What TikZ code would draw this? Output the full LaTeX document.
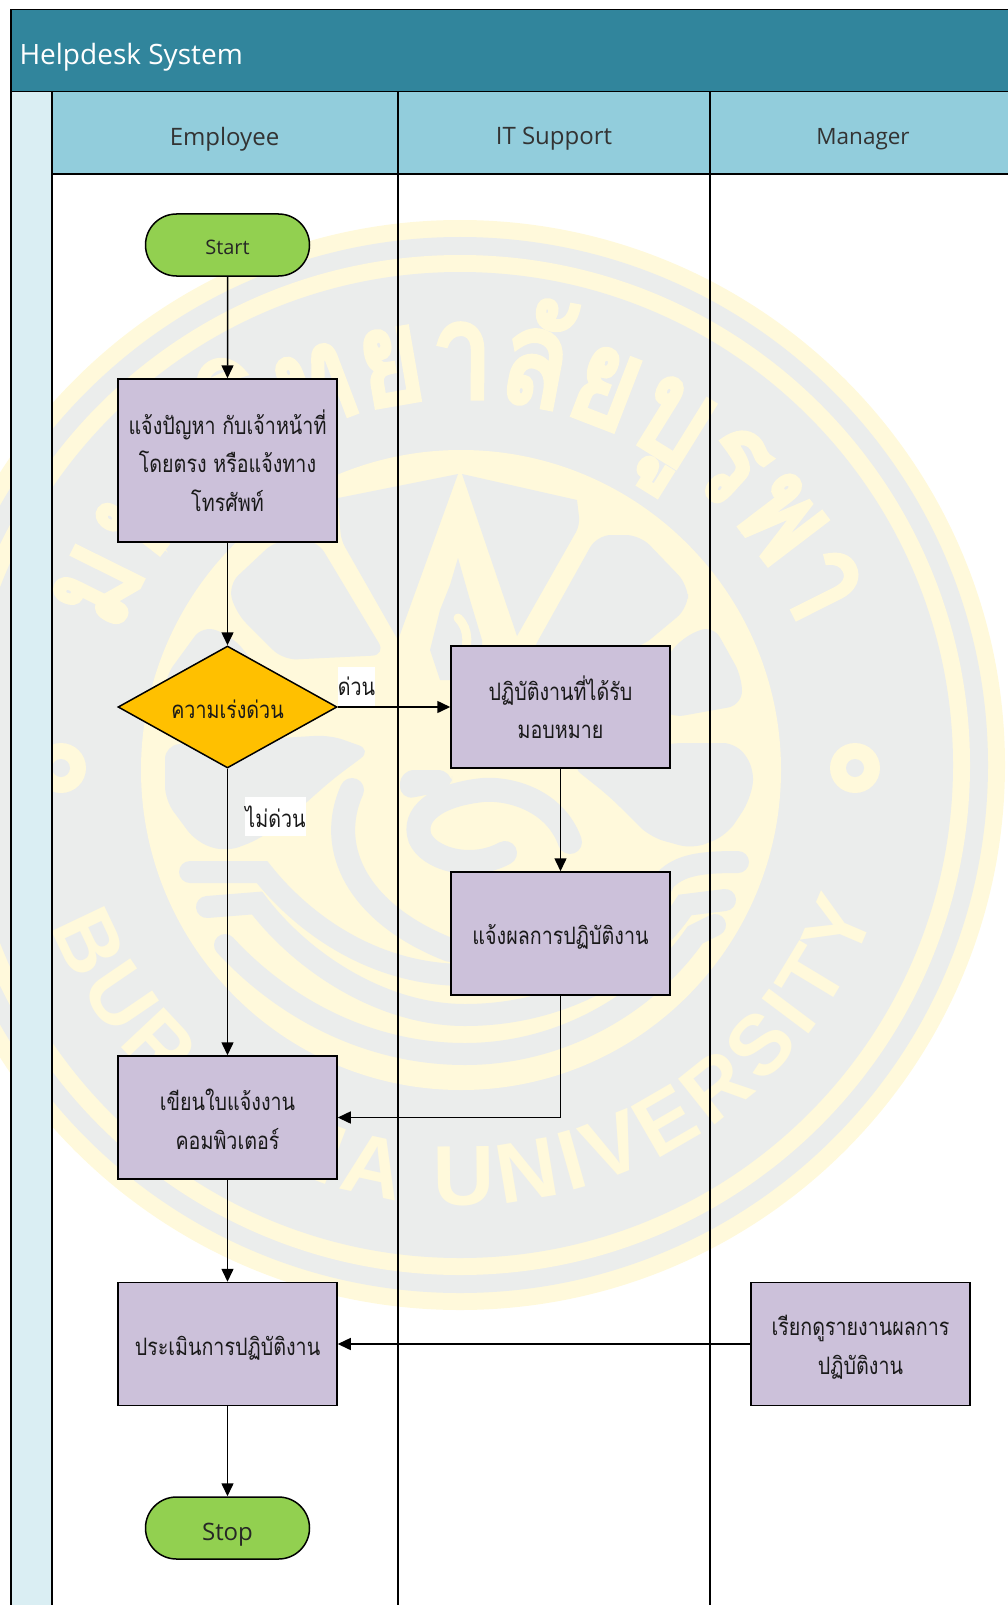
\documentclass[tikz,border=0pt]{standalone}
\usepackage{xcolor}
\usepackage{fontspec}
\usetikzlibrary{arrows.meta,shapes.geometric,shapes.misc,decorations.text}
\setmainfont{Open Sans}
\newfontfamily\thaifont[Script=Thai,FakeStretch=0.82]{Loma}
\newfontfamily\sealthai[Script=Thai,FakeStretch=0.8,FakeBold=4]{Loma}
\newfontfamily\sealfont{Liberation Sans}
\newcommand{\dropped}[2]{\raisebox{-#1}[\height][\depth]{#2}}
\definecolor{cTitle}{RGB}{49,133,156}
\definecolor{cHeader}{RGB}{146,205,220}
\definecolor{cStrip}{RGB}{218,238,243}
\definecolor{cTask}{RGB}{204,193,218}
\definecolor{cGreen}{RGB}{146,208,80}
\definecolor{cAmber}{RGB}{255,192,0}
\definecolor{cSealY}{RGB}{255,249,219}
\definecolor{cSealG}{RGB}{235,237,236}
\tikzset{
        laneline/.style={draw=black,line width=1.5pt},
        lanetext/.style={font=\fontsize{24}{28}\selectfont,text=black!80},
        taskbox/.style={draw=black,line width=1.5pt,fill=cTask,minimum width=219pt,inner sep=0pt,align=center,text=black!90,font=\thaifont\fontsize{24}{38.5}\selectfont},
        termbox/.style={rounded rectangle,draw=black,line width=1.5pt,fill=cGreen,minimum width=164pt,minimum height=62pt,inner sep=0pt,text=black!85},
        askbox/.style={diamond,aspect=1.787,draw=black,line width=1.5pt,fill=cAmber,minimum width=219pt,minimum height=122pt,inner sep=0pt,text=black!90,font=\thaifont\fontsize{24}{28}\selectfont},
        flowlabel/.style={fill=white,inner sep=0pt,minimum height=39pt,text=black!90,font=\thaifont\fontsize{24}{28}\selectfont},
        flowline/.style={draw=black,line width=1.5pt,-{Triangle[width=12pt,length=13pt]}},
        sealhole/.style={fill=cSealG,rounded corners=14pt},
        sealband/.style={draw=cSealG,line width=22pt,line cap=round}
}
\begin{document}
\begin{tikzpicture}[x=1pt,y=1pt]
        \useasboundingbox (0,0) rectangle (1008,-1605);
        \fill[cSealY] (460,-765) circle (545);
        \fill[cSealG] (460,-765) circle (528);
        \fill[cSealY] (460,-765) circle (510);
        \fill[cSealG] (460,-765) circle (493);
        \fill[cSealY] (461,-770) circle (320);
        \fill[cSealG] (462,-474) -- (577,-500) [rounded corners=8pt] -- (580,-525) [sharp corners] -- (517,-636) -- cycle;
        \fill[cSealG] (458,-474) -- (338,-498) [rounded corners=8pt] -- (341,-540) [sharp corners] -- (398,-640) -- cycle;
        \fill[sealhole] (597,-535) -- (640,-535) -- (688,-585) -- (688,-608) -- (640,-648) -- (530,-655) -- cycle;
        \fill[sealhole] (317,-540) -- (276,-540) -- (228,-585) -- (236,-613) -- (283,-660) -- (386,-655) -- cycle;
        \fill[sealhole] (683,-637) -- (713,-625) -- (742,-677) -- (742,-705) -- (670,-718) -- (640,-690) -- cycle;
        \fill[sealhole] (233,-637) -- (203,-625) -- (165,-677) -- (165,-715) -- (246,-730) -- (276,-690) -- cycle;
        \fill[sealhole] (670,-743) -- (737,-743) -- (755,-770) -- (750,-800) -- (727,-835) -- (693,-849) -- (650,-837) -- (610,-797) -- (570,-765) -- cycle;
        \fill[sealhole] (165,-745) -- (165,-800) -- (196,-842) -- (226,-852) -- (260,-839) -- (299,-809) -- (333,-779) -- (372,-750) -- (330,-735) -- cycle;
        \fill[cSealG] (458,-558) -- (470,-600) -- (482,-640) -- (482,-680) -- (440,-680) -- (430,-650) -- (440,-610) -- (450,-585) -- cycle;
        \draw[cSealY,line width=9pt,line cap=round] (458,-618) .. controls (470,-630) and (468,-645) .. (462,-665);
        \fill[sealhole] (400,-770) -- (452,-770) -- (452,-790) -- (400,-800) -- cycle;
        \draw[sealband,line width=24pt] (570,-842) .. controls (555,-800) and (510,-788) .. (483,-790) .. controls (435,-795) and (412,-815) .. (420,-838) .. controls (428,-858) and (470,-872) .. (505,-853);
        \draw[sealband,line width=24pt] (352,-790) .. controls (325,-850) and (360,-915) .. (450,-950);
        \draw[sealband] (190,-872) -- (262,-872) .. controls (300,-920) and (370,-975) .. (465,-975) .. controls (560,-975) and (640,-930) .. (665,-880) .. controls (680,-865) and (700,-862) .. (738,-862);
        \draw[sealband] (207,-907) -- (257,-903) .. controls (300,-960) and (380,-1015) .. (465,-1015) .. controls (570,-1015) and (650,-960) .. (685,-905) -- (725,-900);
        \draw[sealband] (225,-945) .. controls (285,-1010) and (370,-1054) .. (465,-1054) .. controls (565,-1054) and (650,-1000) .. (695,-935) -- (715,-925);
        \fill[cSealY] (855,-768) circle (25);
        \fill[cSealG] (855,-768) circle (9);
        \fill[cSealY] (61,-768) circle (25);
        \fill[cSealG] (61,-768) circle (9);
        \path[decorate,decoration={text along path,text align={fit to path},text={|\sealthai\fontsize{132}{132}\selectfont\color{cSealY}|{ม}{ห}{า}{วิ}{ท}{ย}{า}{ลั}{ย}{บู}{ร}{พ}{า}}}] (460,-765) ++(159:367) arc[start angle=159,end angle=22,radius=367];
        \path[decorate,decoration={text along path,text align={fit to path},text={|\sealfont\bfseries\fontsize{85}{85}\selectfont\color{cSealY}|BURAPHA UNIVERSITY}}] (460,-765) ++(201.5:440) arc[start angle=201.5,end angle=340.5,radius=440];
        \fill[cTitle] (11,-9.5) rectangle (1012,-92);
        \draw[laneline] (11,-9.5) rectangle (1012,-92);
        \fill[cStrip] (11,-92) rectangle (52,-1610);
        \fill[cHeader] (52,-92) rectangle (1012,-174);
        \draw[laneline] (11,-92) -- (11,-1610);
        \draw[laneline] (52,-92) -- (52,-1610);
        \draw[laneline] (398,-92) -- (398,-1610);
        \draw[laneline] (710,-92) -- (710,-1610);
        \draw[laneline] (52,-174) -- (1012,-174);
        \node[lanetext,anchor=west,text=white,font=\fontsize{28}{32}\selectfont] (system) at (16,-57) {Helpdesk System};
        \node[lanetext] (employee) at (224.5,-139) {Employee};
        \node[lanetext] (itsupport) at (554,-139) {IT Support};
        \node[lanetext,font=\fontsize{22.5}{28}\selectfont] (manager) at (863,-139) {Manager};
        \node[termbox,font=\fontsize{20}{26}\selectfont] (start) at (227.5,-245) {\dropped{2.5pt}{Start}};
        \node[taskbox,minimum height=163pt] (report) at (227.5,-460.5) {แจ้งปัญหา กับเจ้าหน้าที่\\โดยตรง หรือแจ้งทาง\\โทรศัพท์};
        \node[askbox] (urgent) at (227.5,-707) {\dropped{2pt}{ความเร่งด่วน}};
        \node[taskbox,minimum height=122pt] (dotask) at (560.5,-707) {ปฏิบัติงานที่ได้รับ\\มอบหมาย};
        \node[taskbox,minimum height=123pt] (notify) at (560.5,-933.5) {\dropped{3pt}{แจ้งผลการปฏิบัติงาน}};
        \node[taskbox,minimum height=123pt] (ticket) at (227.5,-1117.5) {\dropped{2pt}{เขียนใบแจ้งงาน}\\\dropped{2pt}{คอมพิวเตอร์}};
        \node[taskbox,minimum height=123pt] (assess) at (227.5,-1344) {\dropped{4pt}{ประเมินการปฏิบัติงาน}};
        \node[taskbox,minimum height=123pt] (review) at (860.5,-1344) {\dropped{3pt}{เรียกดูรายงานผลการ}\\\dropped{3pt}{ปฏิบัติงาน}};
        \node[termbox,font=\fontsize{24}{26}\selectfont] (stop) at (227.5,-1528) {\dropped{7pt}{Stop}};
        \node[flowlabel,minimum width=37pt] (yes) at (356.5,-686.5) {ด่วน};
        \node[flowlabel,minimum width=57pt] (no) at (275.5,-816.5) {ไม่ด่วน};
        \draw[flowline] (start) -- (report);
        \draw[flowline] (report) -- (urgent);
        \draw[flowline] (urgent) -- (dotask);
        \draw[flowline] (dotask) -- (notify);
        \draw[flowline] (urgent) -- (ticket);
        \draw[flowline] (notify.south) |- (ticket.east);
        \draw[flowline] (ticket) -- (assess);
        \draw[flowline] (review) -- (assess);
        \draw[flowline] (assess) -- (stop);
\end{tikzpicture}
\end{document}
